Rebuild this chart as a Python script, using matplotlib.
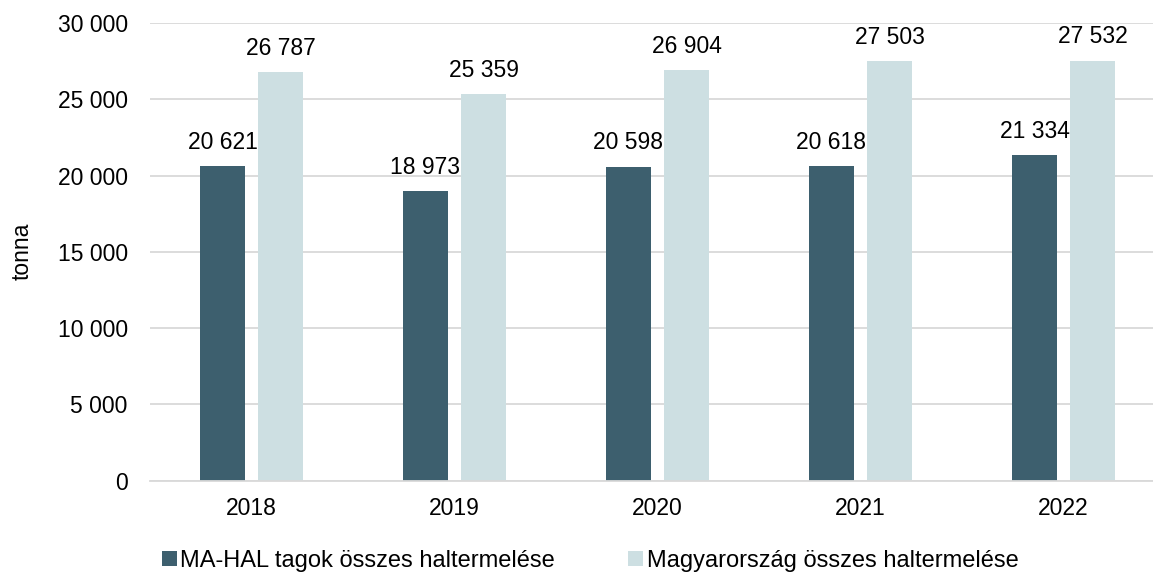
import numpy as np
import matplotlib.pyplot as plt
from matplotlib.ticker import FuncFormatter
from matplotlib.patches import Patch

years = ["2018", "2019", "2020", "2021", "2022"]
mahal = [20621, 18973, 20598, 20618, 21334]
hungary = [26787, 25359, 26904, 27503, 27532]
series_names = ["MA-HAL tagok összes haltermelése", "Magyarország összes haltermelése"]
colors = ["#3D5F6E", "#CDDFE2"]

plt.rcParams['font.family'] = ['Liberation Sans', 'DejaVu Sans']

W, H = 1153, 572
fig = plt.figure(figsize=(W / 100, H / 100), dpi=100)
# axes in pixels: left 150, right 1165 (chart is cropped at right), top 23.3, bottom 480.5
ax = fig.add_axes([150 / W, (H - 480.5) / H, 1015 / W, (480.5 - 23.3) / H])

x = np.arange(len(years))
bw = 0.222
gap = 0.064
off = (bw + gap) / 2
fs = 16.5

def fmt(v):
    return f"{int(v):,}".replace(",", " ")

b1 = ax.bar(x - off, mahal, bw, color=colors[0])
b2 = ax.bar(x + off, hungary, bw, color=colors[1])

for bars, vals in ((b1, mahal), (b2, hungary)):
    for r, v in zip(bars, vals):
        ax.annotate(fmt(v), (r.get_x() + r.get_width() / 2, v),
                    xytext=(0, 9), textcoords="offset points",
                    ha="center", va="bottom", fontsize=fs, color="#000000")

ax.set_xlim(-0.5, len(years) - 0.5)
ax.set_ylim(0, 30000)
ax.set_yticks(np.arange(0, 30001, 5000))
ax.yaxis.set_major_formatter(FuncFormatter(lambda v, p: fmt(v)))
ax.set_xticks(x)
ax.set_xticklabels(years)
ax.tick_params(axis="both", length=0, labelsize=fs, colors="#000000")
ax.tick_params(axis="y", pad=16)
ax.tick_params(axis="x", pad=12)
ax.grid(axis="y", color="#D9D9D9", linewidth=1.3)
ax.set_axisbelow(True)
for s in ["top", "right", "left"]:
    ax.spines[s].set_visible(False)
ax.spines["bottom"].set_color("#D9D9D9")
ax.spines["bottom"].set_linewidth(1.3)

fig.text(22 / W, (H - 251) / H, "tonna", rotation=90, ha="center", va="center", fontsize=fs)

handles = [Patch(facecolor=c, edgecolor="none") for c in colors]
fig.legend(handles, series_names, loc="center left", bbox_to_anchor=(162 / W, (H - 561) / H),
           ncol=2, frameon=False, fontsize=17, handlelength=0.63, handleheight=0.63,
           handletextpad=0.15, columnspacing=3.1, borderpad=0, borderaxespad=0)

fig.savefig("out.png", dpi=100)
